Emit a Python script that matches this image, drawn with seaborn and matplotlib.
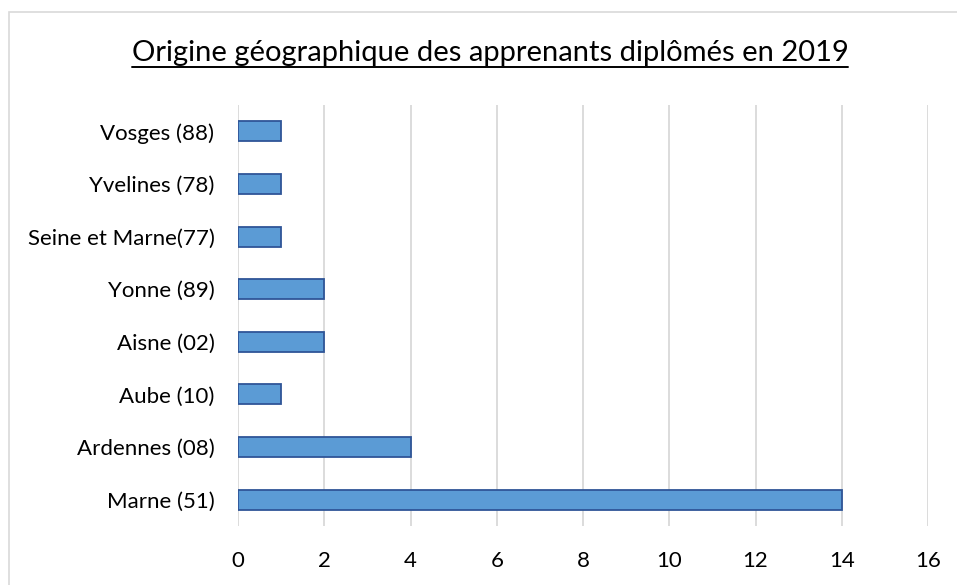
import matplotlib
matplotlib.use("Agg")
import matplotlib.pyplot as plt
import seaborn as sns
import pandas as pd
from matplotlib.lines import Line2D

categories = ["Vosges (88)", "Yvelines (78)", "Seine et Marne(77)", "Yonne (89)",
              "Aisne (02)", "Aube (10)", "Ardennes (08)", "Marne (51)"]
values = [1, 1, 1, 2, 2, 1, 4, 14]
xticks = [0, 2, 4, 6, 8, 10, 12, 14, 16]
title = "Origine géographique des apprenants diplômés en 2019"

sns.set_theme(style="white")
plt.rcParams['font.family'] = ['Lato', 'DejaVu Sans']

df = pd.DataFrame({"cat": categories, "val": values})

fig = plt.figure(figsize=(9.57, 5.85), dpi=100)
W, H = 957, 585
ax = fig.add_axes([238 / W, 1 - 526 / H, (928 - 238) / W, (526 - 105) / H])

sns.barplot(data=df, x="val", y="cat", ax=ax, color="#5B9BD5", orient="h",
            width=0.38, edgecolor="#2F5597", linewidth=1.3, saturation=1)

ax.set_xlim(0, 16)
ax.set_ylim(len(categories) - 0.5, -0.5)
ax.set_xticks(xticks)
ax.set_xticklabels([str(t) for t in xticks])
ax.xaxis.grid(True, color="#D9D9D9", linewidth=1.3)
ax.set_axisbelow(True)
for s in ax.spines.values():
    s.set_visible(False)
ax.set_xlabel("")
ax.set_ylabel("")
ax.tick_params(axis="both", length=0, labelsize=16, colors="#000000")
ax.tick_params(axis="x", pad=18)
ax.tick_params(axis="y", pad=17)

t = fig.text(490 / W, 1 - 53 / H, title, ha="center", va="center", fontsize=21, color="#000000")

# outer chart border
fig.add_artist(plt.Rectangle((9 / W, -0.1), 1.2, 1 - 12 / H + 0.1, transform=fig.transFigure,
                             fill=False, edgecolor="#D9D9D9", linewidth=1.2))

fig.canvas.draw()
bb = t.get_window_extent(renderer=fig.canvas.get_renderer())
y_line = (bb.y0 + 1) / (H)
fig.add_artist(Line2D([bb.x0 / W, bb.x1 / W], [y_line - 2 / H, y_line - 2 / H],
                      transform=fig.transFigure, color="#000000", linewidth=1.4))

fig.savefig("out.png", dpi=100)
